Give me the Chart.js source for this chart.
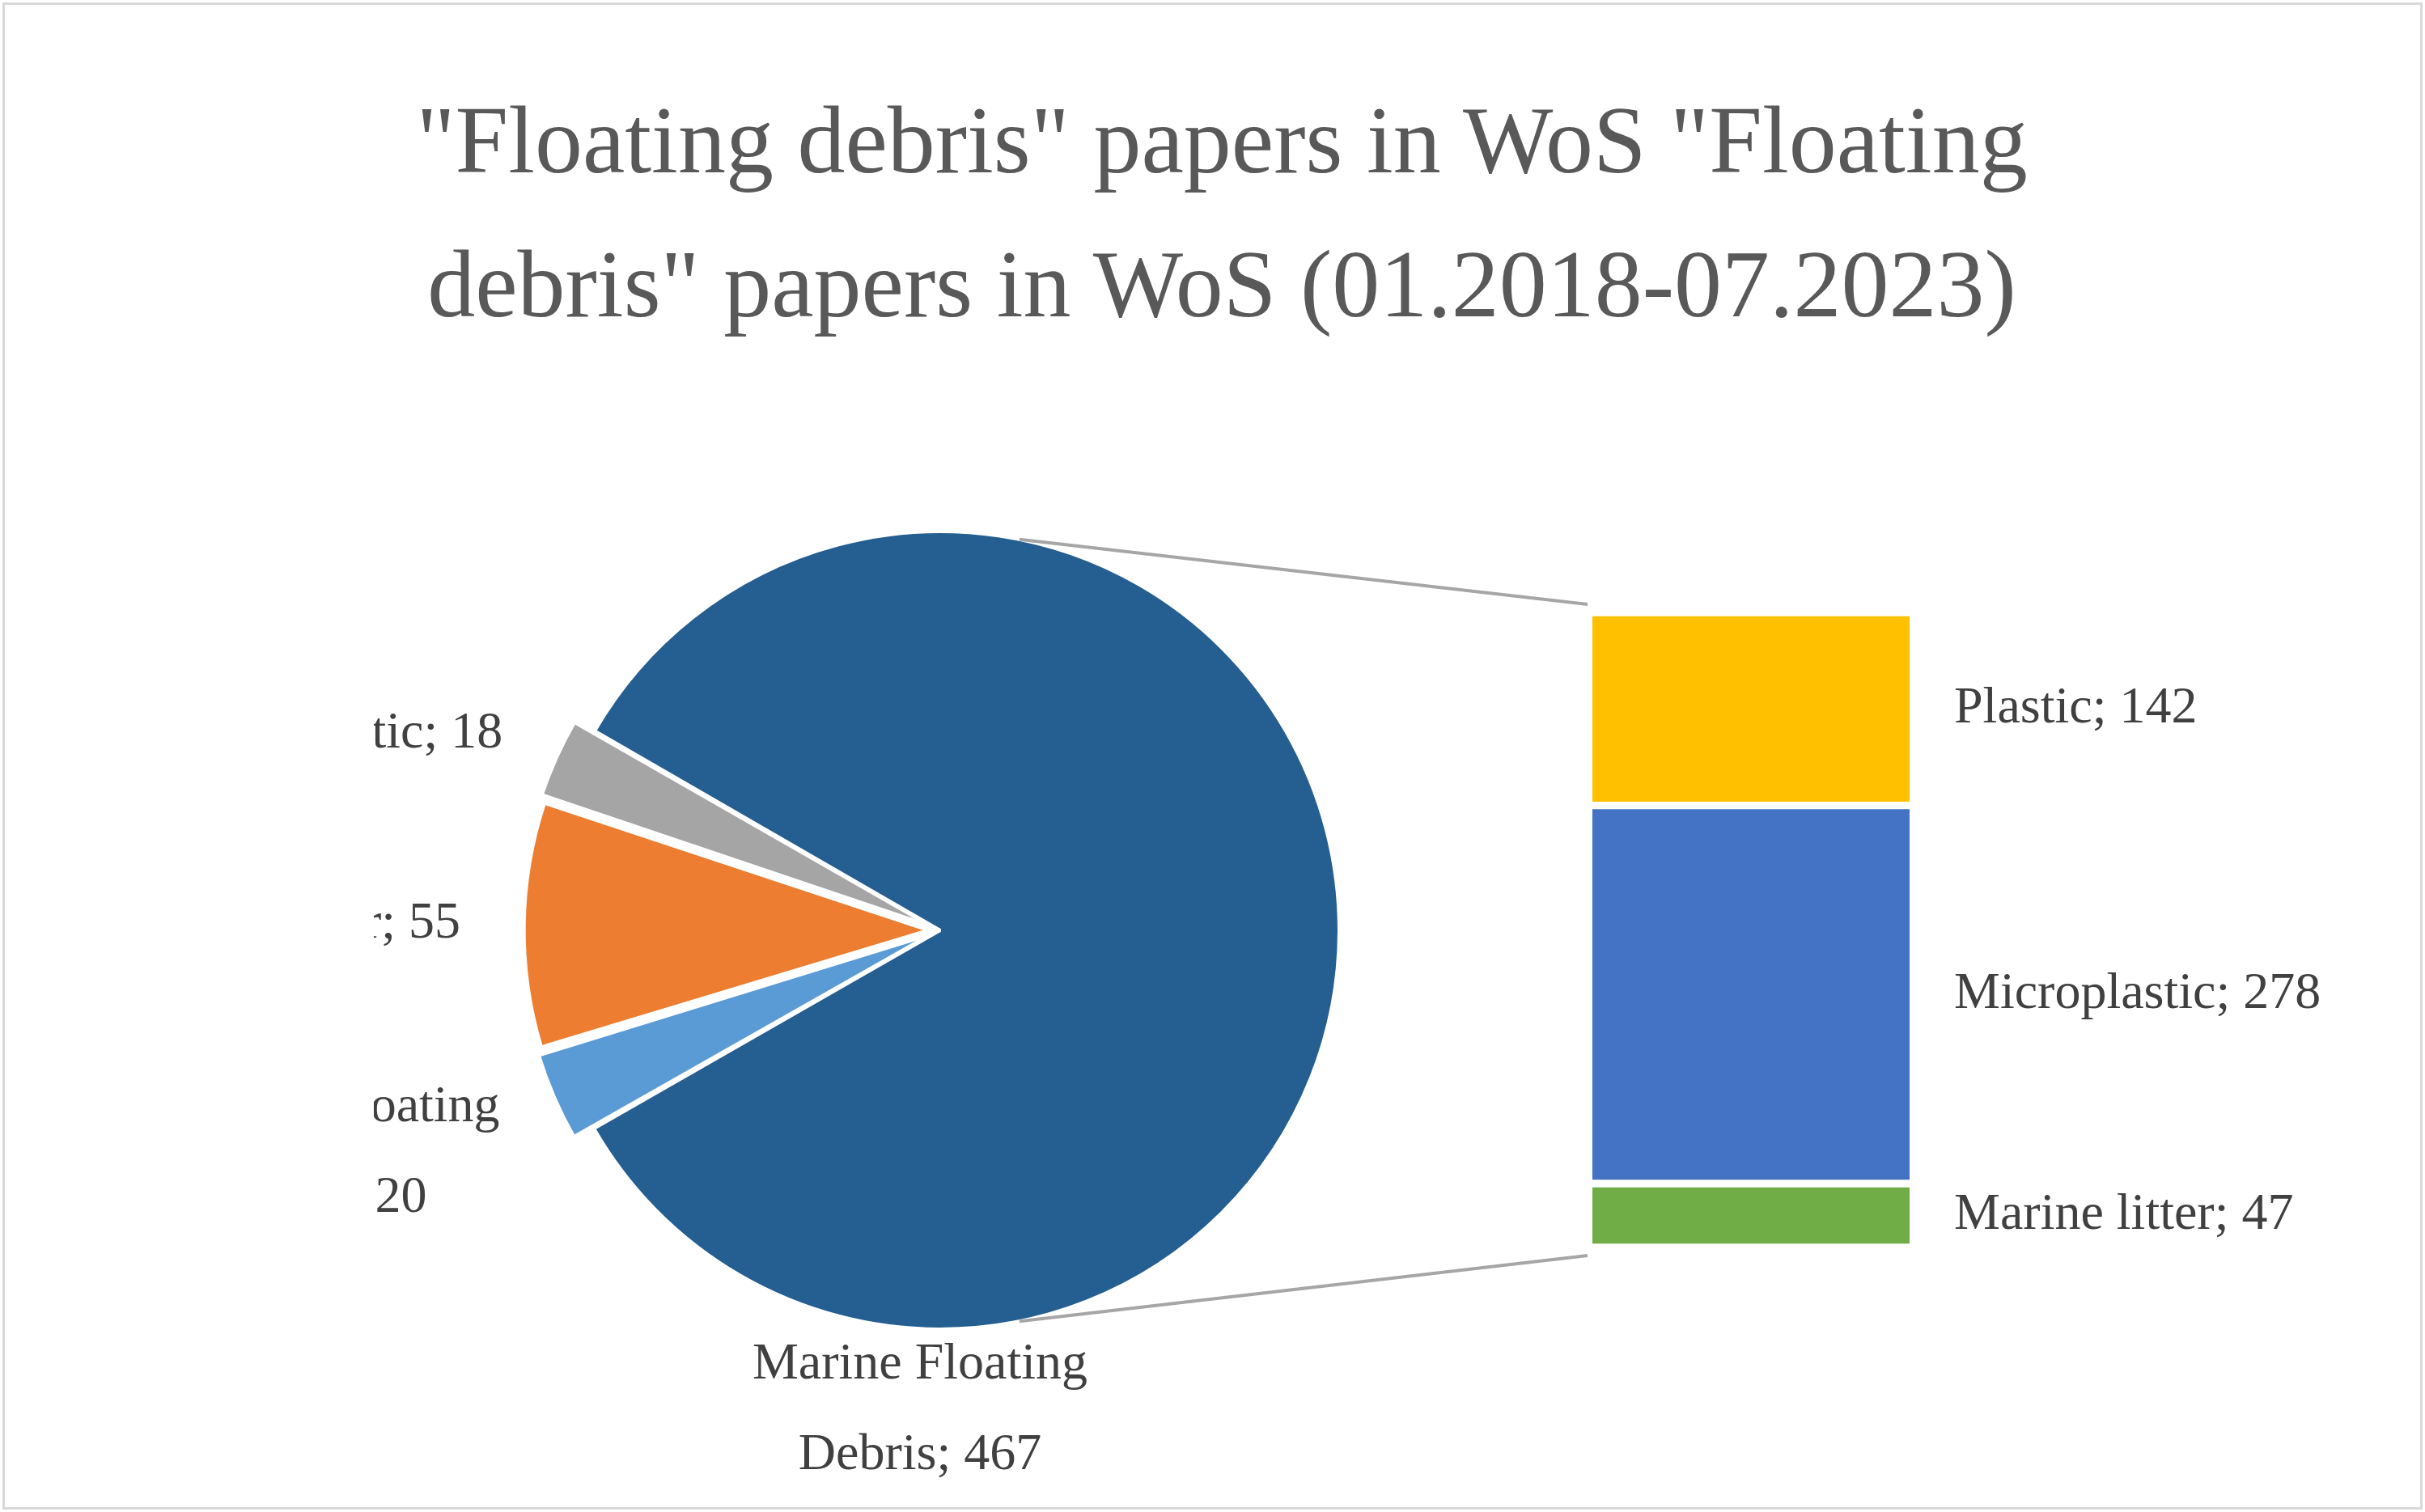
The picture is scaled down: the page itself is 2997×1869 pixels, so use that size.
<!DOCTYPE html>
<html><head><meta charset="utf-8">
<script src="https://cdn.jsdelivr.net/npm/chart.js@4"></script>
<style>
html,body{margin:0;padding:0;background:#fff;width:2997px;height:1869px;overflow:hidden}
#frame{position:absolute;left:3px;top:3px;width:2985px;height:1857px;border:3px solid #d9d9d9}
#title{position:absolute;left:0;top:85px;width:3020px;text-align:center;font-family:"Liberation Serif",serif;font-size:118px;line-height:178px;color:#595959}
canvas{position:absolute}
</style></head><body>
<div id="frame"></div>
<div id="title">"Floating debris" papers in WoS "Floating<br>debris" papers in WoS (01.2018-07.2023)</div>
<canvas id="pie" width="1400" height="1400" style="left:462px;top:450px"></canvas>
<canvas id="bar" width="392" height="785" style="left:1968px;top:757px"></canvas>
<canvas id="ov" width="2997" height="1869" style="left:0;top:0;pointer-events:none"></canvas>
<script>
const pieLabels = [["Marine Floating","Debris; 467"],["Tsunami floating","debris; 20"],["Other; 55"],["Microplastic; 18"]];
const pieValues = [467, 20, 55, 18];
const pieColors = ["#255E91","#5B9BD5","#ED7D31","#A5A5A5"];
const barLabels = ["Marine litter; 47","Microplastic; 278","Plastic; 142"];
const barValues = [47, 278, 142];
const barColors = ["#70AD47","#4472C4","#FFC000"];
const FONT = '64px "Liberation Serif", serif';
const TXT = '#404040';

function drawLines(ctx, lines, x, y, align, lh){
  ctx.font = FONT; ctx.fillStyle = TXT; ctx.textBaseline = 'middle';
  const w = Math.max(...lines.map(l => ctx.measureText(l).width));
  const cx = align === 'right' ? x - w/2 : x;
  ctx.textAlign = 'center';
  const y0 = y - (lines.length-1)*lh/2;
  lines.forEach((l,i) => ctx.fillText(l, cx, y0 + i*lh));
}

const pieLabelPlugin = {
  id:'pieLabels',
  afterDatasetsDraw(chart){
    const ctx = chart.ctx; const meta = chart.getDatasetMeta(0);
    const c = meta.data[0];
    meta.data.forEach((arc,i) => {
      if (i === 0) {
        drawLines(ctx, pieLabels[0], c.x - 25, c.y + c.outerRadius + 100, 'center', 112);
        return;
      }
      const mid = (arc.startAngle + arc.endAngle)/2;
      const r = c.outerRadius + 100;
      const x = c.x + Math.cos(mid)*r, y = c.y + Math.sin(mid)*r + (pieLabels[i].length>1 ? 40 : 0);
      drawLines(ctx, pieLabels[i], x, y, 'right', 112);
    });
  }
};

const pie = new Chart(document.getElementById('pie'), {
  type:'pie',
  data:{labels:pieLabels.map(l=>l.join(' ')), datasets:[{data:pieValues, backgroundColor:pieColors, borderColor:'#fff', borderWidth:4, offset:[0,60,60,60]}]},
  options:{responsive:false, animation:false, devicePixelRatio:1, rotation:-60, radius:493,
    layout:{padding:0}, plugins:{legend:{display:false}, tooltip:{enabled:false}}},
  plugins:[pieLabelPlugin]
});

const barLabelPlugin = {
  id:'barLabels',
  afterDatasetsDraw(chart){
    const ctx = chart.ctx;
    chart.data.datasets.forEach((ds,i) => {
      const el = chart.getDatasetMeta(i).data[0];
      const yc = (el.y + el.base)/2;
      ctx.save(); ctx.font = FONT; ctx.fillStyle = TXT; ctx.textAlign='left'; ctx.textBaseline='middle';
      // drawn on overlay instead (canvas is narrow)
      ctx.restore();
    });
  }
};

const bar = new Chart(document.getElementById('bar'), {
  type:'bar',
  data:{labels:['x'], datasets: barValues.map((v,i)=>({label:barLabels[i], data:[v], backgroundColor:barColors[i], borderColor:'#fff', borderWidth:{top:5,bottom:5,left:0,right:0}, borderSkipped:false, categoryPercentage:1, barPercentage:1}))},
  options:{responsive:false, animation:false, devicePixelRatio:1, layout:{padding:0},
    scales:{x:{display:false, stacked:true}, y:{display:false, stacked:true, min:0, max:barValues.reduce((a,b)=>a+b,0)}},
    plugins:{legend:{display:false}, tooltip:{enabled:false}}}
});

// overlay: connector lines and bar labels
const ov = document.getElementById('ov').getContext('2d');
const pc = document.getElementById('pie'), bc = document.getElementById('bar');
const pOff = {x: pc.offsetLeft, y: pc.offsetTop}, bOff = {x: bc.offsetLeft, y: bc.offsetTop};
const m = pie.getDatasetMeta(0).data[0];
const cx = m.x + pOff.x, cy = m.y + pOff.y, R = m.outerRadius;
const ca = bar.chartArea;
const a1 = -Math.PI/2 + 0.2, a2 = Math.PI/2 - 0.2;
ov.strokeStyle = '#a6a6a6'; ov.lineWidth = 4;
ov.beginPath();
ov.moveTo(cx + Math.cos(a1)*R, cy + Math.sin(a1)*R); ov.lineTo(ca.left + bOff.x - 6, ca.top + bOff.y - 10);
ov.moveTo(cx + Math.cos(a2)*R, cy + Math.sin(a2)*R); ov.lineTo(ca.left + bOff.x - 6, ca.bottom + bOff.y + 10);
ov.stroke();
ov.font = FONT; ov.fillStyle = TXT; ov.textAlign = 'left'; ov.textBaseline = 'middle';
bar.data.datasets.forEach((ds,i) => {
  const el = bar.getDatasetMeta(i).data[0];
  ov.fillText(barLabels[i], ca.right + bOff.x + 55, (el.y + el.base)/2 + bOff.y);
});
</script>
</body></html>
